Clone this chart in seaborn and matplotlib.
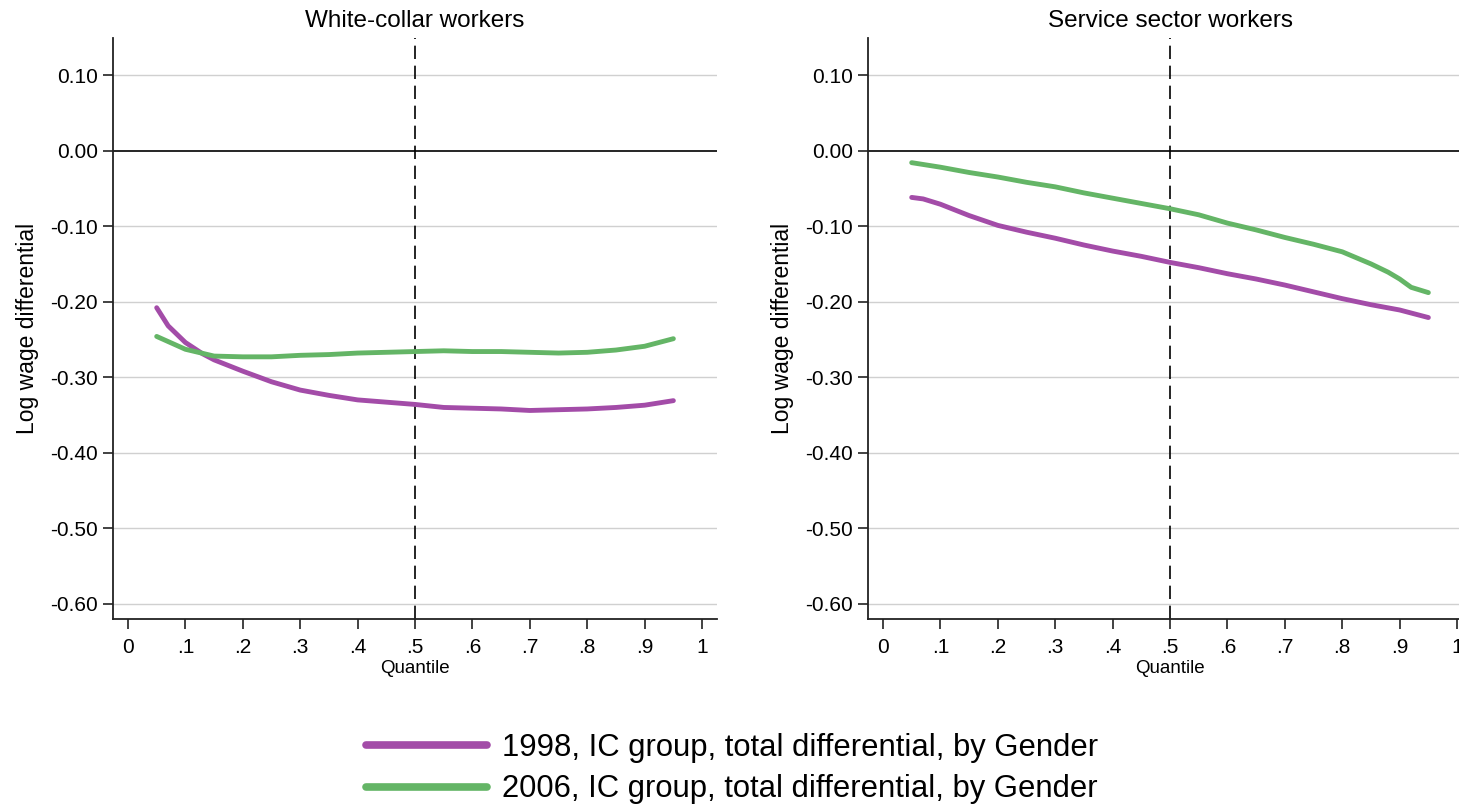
import numpy as np
import pandas as pd
import matplotlib
matplotlib.use("Agg")
import matplotlib.pyplot as plt
import seaborn as sns
from matplotlib.lines import Line2D

sns.set_theme(style="white")
plt.rcParams['font.family'] = ['Liberation Sans', 'DejaVu Sans']
plt.rcParams['text.color'] = 'black'

panel_titles = ["White-collar workers", "Service sector workers"]
series_labels = ["1998, IC group, total differential, by Gender",
                 "2006, IC group, total differential, by Gender"]

wc_q_1998 = [0.05, 0.07, 0.10, 0.13, 0.15, 0.20, 0.25, 0.30, 0.35, 0.40, 0.45, 0.50,
             0.55, 0.60, 0.65, 0.70, 0.75, 0.80, 0.85, 0.90, 0.95]
wc_v_1998 = [-0.208, -0.232, -0.254, -0.269, -0.277, -0.292, -0.306, -0.317, -0.324, -0.330,
             -0.333, -0.336, -0.340, -0.341, -0.342, -0.344, -0.343, -0.342, -0.340, -0.337, -0.331]
wc_q_2006 = [0.05, 0.10, 0.15, 0.20, 0.25, 0.30, 0.35, 0.40, 0.45, 0.50, 0.55, 0.60,
             0.65, 0.70, 0.75, 0.80, 0.85, 0.90, 0.95]
wc_v_2006 = [-0.246, -0.263, -0.272, -0.273, -0.273, -0.271, -0.270, -0.268, -0.267, -0.266,
             -0.265, -0.266, -0.266, -0.267, -0.268, -0.267, -0.264, -0.259, -0.249]

ss_q_1998 = [0.05, 0.07, 0.10, 0.15, 0.20, 0.25, 0.30, 0.35, 0.40, 0.45, 0.50, 0.55,
             0.60, 0.65, 0.70, 0.75, 0.80, 0.85, 0.90, 0.95]
ss_v_1998 = [-0.062, -0.064, -0.071, -0.086, -0.099, -0.108, -0.116, -0.125, -0.133, -0.140,
             -0.148, -0.155, -0.163, -0.170, -0.178, -0.187, -0.196, -0.204, -0.211, -0.221]
ss_q_2006 = [0.05, 0.10, 0.15, 0.20, 0.25, 0.30, 0.35, 0.40, 0.45, 0.50, 0.55, 0.60,
             0.65, 0.70, 0.75, 0.80, 0.85, 0.88, 0.90, 0.92, 0.95]
ss_v_2006 = [-0.016, -0.022, -0.029, -0.035, -0.042, -0.048, -0.056, -0.063, -0.070, -0.077,
             -0.085, -0.096, -0.105, -0.115, -0.124, -0.134, -0.150, -0.161, -0.170, -0.181, -0.188]

x_ticks = [0, 0.1, 0.2, 0.3, 0.4, 0.5, 0.6, 0.7, 0.8, 0.9, 1.0]
x_ticklabels = ["0", ".1", ".2", ".3", ".4", ".5", ".6", ".7", ".8", ".9", "1"]
y_ticks = [0.10, 0.00, -0.10, -0.20, -0.30, -0.40, -0.50, -0.60]

colors = {series_labels[0]: "#a34ca8", series_labels[1]: "#64b566"}

frames = []
for panel, data in zip(panel_titles, [((wc_q_1998, wc_v_1998), (wc_q_2006, wc_v_2006)),
                                      ((ss_q_1998, ss_v_1998), (ss_q_2006, ss_v_2006))]):
    for lab, (q, v) in zip(series_labels, data):
        frames.append(pd.DataFrame({"panel": panel, "series": lab, "q": q, "v": v}))
df = pd.concat(frames, ignore_index=True)

fig = plt.figure(figsize=(14.59, 8.05), dpi=100)
W, H = 1459, 805
ax_lefts = [113, 868]
ax_w = 604
top, bottom = 38, 619

for i, panel in enumerate(panel_titles):
    ax = fig.add_axes([ax_lefts[i] / W, 1 - bottom / H, ax_w / W, (bottom - top) / H])
    sub = df[df.panel == panel]
    for y in y_ticks:
        if y != 0:
            ax.axhline(y, color="#d0d0d0", lw=1.0, zorder=0)
    ax.axhline(0, color="black", lw=1.2, zorder=1)
    ax.axvline(0.5, color="black", lw=1.2, ls=(0, (8, 4)), zorder=1)
    sns.lineplot(data=sub, x="q", y="v", hue="series", palette=colors, ax=ax,
                 lw=3.5, legend=False, zorder=3, sort=True, solid_capstyle="round")
    ax.set_xlim(-0.0261, 1.026)
    ax.set_ylim(-0.620, 0.149)
    ax.set_xticks(x_ticks)
    ax.set_xticklabels(x_ticklabels)
    ax.set_yticks(y_ticks)
    ax.set_yticklabels([f"{y:.2f}" for y in y_ticks])
    ax.tick_params(axis="both", direction="out", length=7, width=1.2, color="#222222",
                   labelsize=15, labelcolor="black", bottom=True, left=True)
    ax.tick_params(axis="x", pad=7)
    ax.tick_params(axis="y", pad=4)
    for s in ["top", "right"]:
        ax.spines[s].set_visible(False)
    for s in ["left", "bottom"]:
        ax.spines[s].set_color("#222222")
        ax.spines[s].set_linewidth(1.3)
    ax.set_title(panel, fontsize=17.5, color="black", pad=8)
    ax.set_xlabel("Quantile", fontsize=13.5, color="black", labelpad=2)
    ax.set_ylabel("Log wage differential", fontsize=16.5, color="black", labelpad=8)

handles = [Line2D([0], [0], color=colors[l], lw=5.5, solid_capstyle="round") for l in series_labels]
leg = fig.legend(handles, series_labels, loc="center", bbox_to_anchor=(0.502, 1 - 768.5 / H),
                 frameon=False, fontsize=22.3, handlelength=3.9, labelspacing=0.38,
                 handletextpad=0.5)
for t in leg.get_texts():
    t.set_color("black")

fig.savefig("out.png", dpi=100)
